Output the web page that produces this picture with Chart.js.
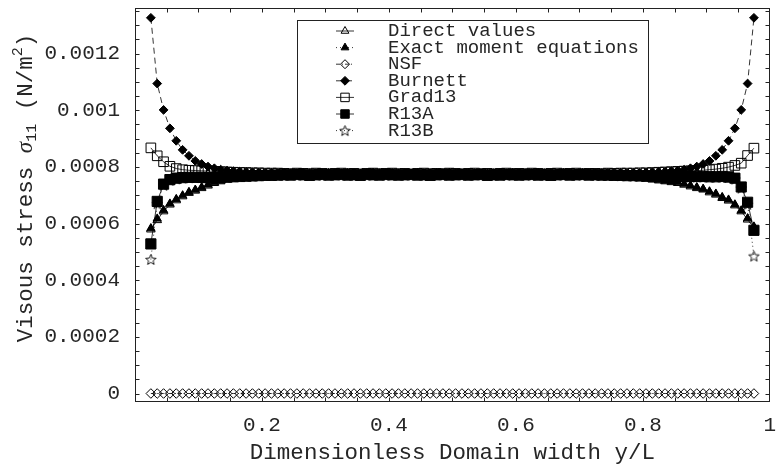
<!DOCTYPE html>
<html>
<head>
<meta charset="utf-8">
<script src="https://cdn.jsdelivr.net/npm/chart.js@4.4.1/dist/chart.umd.min.js"></script>
<style>
  html, body { margin: 0; padding: 0; background: #fff; }
  canvas { display: block; }
</style>
</head>
<body>
<canvas id="c" width="778" height="467"></canvas>
<script>
// Dimensionless position across the channel (y/L)
const widthRatio = [
  0.025,0.035,0.045,0.055,0.065,0.075,0.085,0.095,0.105,0.115,
  0.125,0.135,0.145,0.155,0.165,0.175,0.185,0.195,0.205,0.215,
  0.225,0.235,0.245,0.255,0.265,0.275,0.285,0.295,0.305,0.315,
  0.325,0.335,0.345,0.355,0.365,0.375,0.385,0.395,0.405,0.415,
  0.425,0.435,0.445,0.455,0.465,0.475,0.485,0.495,0.505,0.515,
  0.525,0.535,0.545,0.555,0.565,0.575,0.585,0.595,0.605,0.615,
  0.625,0.635,0.645,0.655,0.665,0.675,0.685,0.695,0.705,0.715,
  0.725,0.735,0.745,0.755,0.765,0.775,0.785,0.795,0.805,0.815,
  0.825,0.835,0.845,0.855,0.865,0.875,0.885,0.895,0.905,0.915,
  0.925,0.935,0.945,0.955,0.965,0.975
];

// Viscous stress sigma_11 (N/m^2) for each model
const directValues = [
  0.000579,0.000612,0.000643,0.000667,0.000682,0.000696,0.000708,0.000716,0.000725,0.000734,
  0.000743,0.000749,0.000755,0.000758,0.000761,0.000764,0.000766,0.000768,0.000770,0.000771,
  0.000772,0.000773,0.000774,0.000773,0.000775,0.000774,0.000773,0.000775,0.000774,0.000773,
  0.000774,0.000775,0.000773,0.000774,0.000775,0.000773,0.000774,0.000775,0.000774,0.000773,
  0.000775,0.000774,0.000773,0.000774,0.000775,0.000774,0.000773,0.000775,0.000774,0.000773,
  0.000774,0.000775,0.000773,0.000774,0.000773,0.000775,0.000774,0.000773,0.000775,0.000774,
  0.000773,0.000774,0.000775,0.000773,0.000774,0.000775,0.000773,0.000774,0.000773,0.000774,
  0.000772,0.000771,0.000770,0.000769,0.000767,0.000765,0.000763,0.000760,0.000758,0.000755,
  0.000752,0.000749,0.000746,0.000743,0.000737,0.000731,0.000725,0.000720,0.000710,0.000702,
  0.000690,0.000681,0.000664,0.000643,0.000614,0.000585
];
const exactMoment = [
  0.000583,0.000617,0.000647,0.000670,0.000686,0.000699,0.000711,0.000719,0.000728,0.000737,
  0.000745,0.000751,0.000757,0.000760,0.000763,0.000765,0.000767,0.000769,0.000770,0.000771,
  0.000772,0.000774,0.000773,0.000774,0.000773,0.000775,0.000774,0.000773,0.000774,0.000775,
  0.000773,0.000774,0.000775,0.000773,0.000774,0.000773,0.000775,0.000774,0.000773,0.000775,
  0.000774,0.000773,0.000775,0.000774,0.000773,0.000775,0.000774,0.000773,0.000774,0.000775,
  0.000773,0.000774,0.000775,0.000773,0.000774,0.000774,0.000773,0.000775,0.000774,0.000773,
  0.000775,0.000773,0.000774,0.000775,0.000773,0.000774,0.000775,0.000773,0.000774,0.000773,
  0.000773,0.000772,0.000771,0.000770,0.000768,0.000766,0.000764,0.000762,0.000759,0.000757,
  0.000754,0.000751,0.000748,0.000745,0.000740,0.000734,0.000728,0.000722,0.000713,0.000705,
  0.000693,0.000684,0.000667,0.000646,0.000618,0.000589
];
const nsf = [
  0,0,0,0,0,0,0,0,0,0, 0,0,0,0,0,0,0,0,0,0,
  0,0,0,0,0,0,0,0,0,0, 0,0,0,0,0,0,0,0,0,0,
  0,0,0,0,0,0,0,0,0,0, 0,0,0,0,0,0,0,0,0,0,
  0,0,0,0,0,0,0,0,0,0, 0,0,0,0,0,0,0,0,0,0,
  0,0,0,0,0,0,0,0,0,0, 0,0,0,0,0,0
];
const burnett = [
  0.001326,0.001094,0.001001,0.000936,0.000892,0.000860,0.000839,0.000821,0.000810,0.000801,
  0.000795,0.000790,0.000787,0.000785,0.000783,0.000782,0.000781,0.000780,0.000779,0.000779,
  0.000778,0.000779,0.000777,0.000778,0.000780,0.000777,0.000778,0.000776,0.000779,0.000778,
  0.000777,0.000779,0.000778,0.000776,0.000778,0.000780,0.000777,0.000778,0.000779,0.000777,
  0.000778,0.000776,0.000779,0.000778,0.000777,0.000779,0.000778,0.000780,0.000777,0.000778,
  0.000779,0.000777,0.000778,0.000776,0.000778,0.000779,0.000777,0.000780,0.000778,0.000777,
  0.000778,0.000779,0.000777,0.000778,0.000776,0.000779,0.000778,0.000777,0.000779,0.000778,
  0.000777,0.000778,0.000779,0.000778,0.000779,0.000778,0.000779,0.000779,0.000780,0.000781,
  0.000782,0.000783,0.000785,0.000787,0.000790,0.000795,0.000801,0.000810,0.000821,0.000839,
  0.000860,0.000892,0.000936,0.001001,0.001094,0.001326
];
const grad13 = [
  0.000867,0.000839,0.000818,0.000802,0.000794,0.000790,0.000788,0.000787,0.000786,0.000785,
  0.000784,0.000783,0.000782,0.000781,0.000780,0.000780,0.000779,0.000779,0.000778,0.000778,
  0.000778,0.000777,0.000776,0.000778,0.000777,0.000776,0.000778,0.000777,0.000775,0.000777,
  0.000778,0.000776,0.000777,0.000775,0.000777,0.000778,0.000776,0.000777,0.000778,0.000776,
  0.000777,0.000775,0.000777,0.000778,0.000776,0.000777,0.000776,0.000778,0.000777,0.000775,
  0.000777,0.000778,0.000776,0.000777,0.000775,0.000777,0.000778,0.000776,0.000777,0.000776,
  0.000778,0.000777,0.000775,0.000777,0.000778,0.000776,0.000777,0.000778,0.000776,0.000777,
  0.000777,0.000776,0.000778,0.000777,0.000778,0.000778,0.000778,0.000779,0.000779,0.000780,
  0.000781,0.000782,0.000783,0.000784,0.000785,0.000786,0.000787,0.000788,0.000790,0.000792,
  0.000795,0.000799,0.000805,0.000813,0.000840,0.000866
];
const r13a = [
  0.000528,0.000678,0.000739,0.000755,0.000760,0.000762,0.000763,0.000763,0.000763,0.000762,
  0.000762,0.000763,0.000764,0.000765,0.000766,0.000767,0.000768,0.000769,0.000770,0.000770,
  0.000771,0.000772,0.000771,0.000773,0.000772,0.000770,0.000772,0.000773,0.000771,0.000772,
  0.000773,0.000771,0.000772,0.000770,0.000773,0.000772,0.000771,0.000773,0.000772,0.000771,
  0.000772,0.000773,0.000771,0.000772,0.000770,0.000772,0.000773,0.000771,0.000772,0.000773,
  0.000771,0.000772,0.000773,0.000770,0.000772,0.000771,0.000773,0.000772,0.000771,0.000772,
  0.000773,0.000771,0.000772,0.000770,0.000772,0.000773,0.000771,0.000772,0.000773,0.000771,
  0.000772,0.000771,0.000771,0.000770,0.000770,0.000769,0.000769,0.000768,0.000768,0.000767,
  0.000767,0.000767,0.000767,0.000767,0.000766,0.000766,0.000766,0.000766,0.000765,0.000765,
  0.000766,0.000764,0.000760,0.000729,0.000675,0.000576
];
const r13b = [
  0.000473,0.000670,0.000735,0.000752,0.000758,0.000761,0.000762,0.000762,0.000763,0.000763,
  0.000763,0.000764,0.000765,0.000766,0.000767,0.000768,0.000769,0.000769,0.000770,0.000771,
  0.000772,0.000771,0.000773,0.000772,0.000771,0.000773,0.000772,0.000771,0.000772,0.000773,
  0.000772,0.000771,0.000773,0.000772,0.000771,0.000772,0.000773,0.000771,0.000772,0.000773,
  0.000771,0.000772,0.000773,0.000771,0.000772,0.000773,0.000772,0.000771,0.000773,0.000772,
  0.000771,0.000773,0.000772,0.000771,0.000772,0.000773,0.000771,0.000772,0.000773,0.000772,
  0.000771,0.000772,0.000773,0.000772,0.000771,0.000773,0.000772,0.000771,0.000772,0.000773,
  0.000771,0.000771,0.000770,0.000770,0.000769,0.000769,0.000768,0.000768,0.000767,0.000767,
  0.000767,0.000766,0.000766,0.000766,0.000766,0.000765,0.000765,0.000765,0.000765,0.000764,
  0.000765,0.000763,0.000757,0.000725,0.000668,0.000485
];

// Axis tick settings
const xTickStep = 0.05, xLabelStep = 0.2;
const yTickStep = 0.00005, yLabelStep = 0.0002;

const INK = '#262626';
const MONO = '"Liberation Mono", "DejaVu Sans Mono", monospace';

// Open five-point star marker
function starMarker(size, outer, inner) {
  const c = document.createElement('canvas');
  c.width = c.height = size;
  const g = c.getContext('2d');
  g.strokeStyle = '#000';
  g.lineWidth = 0.9;
  g.beginPath();
  for (let i = 0; i < 10; i++) {
    const r = i % 2 ? inner : outer;
    const a = -Math.PI / 2 + i * Math.PI / 5;
    const px = size / 2 + r * Math.cos(a), py = size / 2 + 0.5 + r * Math.sin(a);
    if (i === 0) g.moveTo(px, py); else g.lineTo(px, py);
  }
  g.closePath();
  g.stroke();
  return c;
}

const pts = vals => widthRatio.map((x, i) => ({ x, y: vals[i] }));
const NONE = 'rgba(0,0,0,0)';

function series(label, vals, style) {
  return Object.assign({
    label,
    data: pts(vals),
    showLine: true,
    borderColor: '#000',
    borderWidth: 0.8,
    pointBorderColor: '#000',
    pointBorderWidth: 1,
    tension: 0,
    pointHoverRadius: 0
  }, style);
}

const datasets = [
  series('Direct values', directValues,
    { pointStyle: 'triangle', pointRadius: 5, pointBackgroundColor: NONE, borderDash: [], order: 1 }),
  series('Exact moment equations', exactMoment,
    { pointStyle: 'triangle', pointRadius: 4.8, pointBackgroundColor: '#000', borderDash: [1, 3], order: 5 }),
  series('NSF', nsf,
    { pointStyle: 'rectRot', pointRadius: 4.8, pointBackgroundColor: NONE, borderDash: [4, 2, 1, 2], order: 3 }),
  series('Burnett', burnett,
    { pointStyle: 'rectRot', pointRadius: 4.4, pointBackgroundColor: '#000', borderDash: [6, 4], order: 6 }),
  series('Grad13', grad13,
    { pointStyle: 'rect', pointRadius: 6.8, pointBackgroundColor: NONE, borderDash: [], order: 2 }),
  series('R13A', r13a,
    { pointStyle: 'rect', pointRadius: 7.2, pointBackgroundColor: '#000', borderDash: [], order: 4 }),
  series('R13B', r13b,
    { pointStyle: starMarker(13, 5.5, 2.4), pointRadius: 5, pointBackgroundColor: NONE, borderDash: [1, 3], order: 7 })
];

// Closed frame with inward tick marks on all four sides
const frameTicks = {
  id: 'frameTicks',
  afterDatasetsDraw(chart) {
    const { ctx, chartArea: a, scales: { x, y } } = chart;
    const L = Math.floor(a.left) + 0.5, R = Math.ceil(a.right) - 0.5;
    const T = Math.floor(a.top) + 0.5, B = Math.ceil(a.bottom) - 0.5;
    ctx.save();
    ctx.strokeStyle = '#222';
    ctx.lineWidth = 1;
    ctx.beginPath();
    x.ticks.forEach(t => {
      const px = Math.round(x.getPixelForValue(t.value)) + 0.5;
      if (px <= L + 1 || px >= R - 1) return;
      ctx.moveTo(px, B); ctx.lineTo(px, B - 4);
      ctx.moveTo(px, T); ctx.lineTo(px, T + 4);
    });
    y.ticks.forEach(t => {
      const py = Math.round(y.getPixelForValue(t.value)) + 0.5;
      if (py <= T + 1 || py >= B - 1) return;
      ctx.moveTo(L, py); ctx.lineTo(L + 4, py);
      ctx.moveTo(R, py); ctx.lineTo(R - 4, py);
    });
    ctx.stroke();
    ctx.strokeRect(L, T, R - L, B - T);
    ctx.restore();
  }
};

// Boxed legend inside the plot, using each dataset's own marker and dash
const boxLegend = {
  id: 'boxLegend',
  afterDraw(chart) {
    const { ctx } = chart;
    const box = { l: 297.5, t: 20.5, r: 648.5, b: 143.5 };
    ctx.save();
    ctx.fillStyle = '#fff';
    ctx.fillRect(box.l, box.t, box.r - box.l, box.b - box.t);
    ctx.strokeStyle = '#222';
    ctx.lineWidth = 1;
    ctx.strokeRect(box.l, box.t, box.r - box.l, box.b - box.t);
    const mx = 345, tx = 388, y0 = 31, dy = 16.6;
    chart.data.datasets.forEach((ds, i) => {
      const cy = y0 + i * dy;
      ctx.save();
      ctx.strokeStyle = '#000';
      ctx.lineWidth = 0.8;
      ctx.setLineDash(ds.borderDash || []);
      ctx.beginPath();
      ctx.moveTo(mx - 9, cy); ctx.lineTo(mx + 9, cy);
      ctx.stroke();
      ctx.setLineDash([]);
      ctx.fillStyle = ds.pointBackgroundColor;
      ctx.strokeStyle = '#000';
      ctx.lineWidth = 1;
      const r = ds.pointStyle === 'rect' ? Math.min(ds.pointRadius, 6) : Math.min(ds.pointRadius, 4.5);
      Chart.helpers.drawPoint(ctx, { pointStyle: ds.pointStyle, radius: r, borderWidth: 1, rotation: 0 }, mx, cy);
      ctx.restore();
      ctx.fillStyle = INK;
      ctx.font = '19px ' + MONO;
      ctx.textBaseline = 'middle';
      ctx.textAlign = 'left';
      ctx.fillText(ds.label, tx, cy);
    });
    ctx.restore();
  }
};

// Vertical axis title with subscript and superscript
const yTitle = {
  id: 'yTitle',
  afterDraw(chart) {
    const { ctx } = chart;
    const big = '22.5px ' + MONO, small = '15px ' + MONO;
    const sigma = 'italic 23px "Liberation Serif", "DejaVu Serif", serif';
    const parts = [
      { t: 'Visous stress ', f: big, dy: 0 },
      { t: 'σ', f: sigma, dy: 0 },
      { t: '11', f: small, dy: 6 },
      { t: ' (N/m', f: big, dy: 0 },
      { t: '2', f: small, dy: -8 },
      { t: ')', f: big, dy: 0 }
    ];
    ctx.save();
    let total = 0;
    parts.forEach(p => { ctx.font = p.f; p.w = ctx.measureText(p.t).width; total += p.w; });
    ctx.translate(26, 188);
    ctx.rotate(-Math.PI / 2);
    ctx.fillStyle = INK;
    ctx.textBaseline = 'middle';
    ctx.textAlign = 'left';
    let x = -total / 2;
    parts.forEach(p => { ctx.font = p.f; ctx.fillText(p.t, x, p.dy); x += p.w; });
    ctx.restore();
  }
};

const isMultiple = (v, step) => {
  const k = Math.round(v / step);
  return Math.abs(v - k * step) < step * 1e-6 ? k : null;
};

new Chart(document.getElementById('c'), {
  type: 'scatter',
  data: { datasets },
  options: {
    responsive: false,
    animation: false,
    events: [],
    layout: { padding: { top: 6, right: 3, left: 0, bottom: 0 } },
    plugins: { legend: { display: false }, tooltip: { enabled: false } },
    scales: {
      x: {
        type: 'linear', min: 0, max: 1,
        grid: { display: false, drawTicks: false },
        border: { display: false },
        ticks: {
          stepSize: xTickStep, autoSkip: false, maxRotation: 0, includeBounds: false,
          padding: 11, color: INK, font: { family: MONO, size: 21 },
          callback: v => {
            const k = isMultiple(v, xLabelStep);
            return k ? String(+(k * xLabelStep).toFixed(1)) : '';
          }
        },
        title: {
          display: true, text: 'Dimensionless Domain width y/L', color: INK,
          font: { family: MONO, size: 22.5 }, padding: { top: 0, bottom: 0 }
        },
        afterFit(s) { s.height = 65; s.paddingLeft = 0; s.paddingRight = 0; }
      },
      y: {
        type: 'linear', min: -0.00003, max: 0.00136,
        grid: { display: false, drawTicks: false },
        border: { display: false },
        ticks: {
          stepSize: yTickStep, autoSkip: false, includeBounds: false,
          padding: 15, color: INK, font: { family: MONO, size: 21 },
          callback: v => {
            const k = isMultiple(v, yLabelStep);
            return k === null ? '' : String(+(k * yLabelStep).toFixed(4));
          }
        },
        afterFit(s) { s.width = 135; s.paddingTop = 0; s.paddingBottom = 0; }
      }
    }
  },
  plugins: [frameTicks, boxLegend, yTitle]
});
</script>
</body>
</html>
